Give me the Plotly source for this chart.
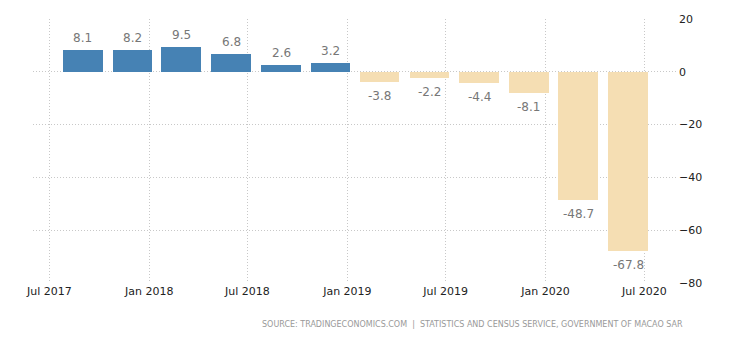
import plotly.graph_objects as go

# Quarterly year-on-year change, %
quarters = [
    "2017-09-01", "2017-12-01", "2018-03-01", "2018-06-01",
    "2018-09-01", "2018-12-01", "2019-03-01", "2019-06-01",
    "2019-09-01", "2019-12-01", "2020-03-01", "2020-06-01",
]
values = [8.1, 8.2, 9.5, 6.8, 2.6, 3.2, -3.8, -2.2, -4.4, -8.1, -48.7, -67.8]

tick_dates = ["2017-07-01", "2018-01-01", "2018-07-01", "2019-01-01",
              "2019-07-01", "2020-01-01", "2020-07-01"]
tick_text = ["Jul 2017", "Jan 2018", "Jul 2018", "Jan 2019",
             "Jul 2019", "Jan 2020", "Jul 2020"]
y_ticks = [20, 0, -20, -40, -60, -80]

POS_COLOR = "#4682B4"
NEG_COLOR = "#F5DEB3"
FONT = "DejaVu Sans"

DAY_MS = 86400000
bar_width = 73 * DAY_MS

fig = go.Figure()
fig.add_trace(go.Bar(
    x=quarters,
    y=values,
    width=[bar_width] * len(values),
    marker=dict(color=[POS_COLOR if v >= 0 else NEG_COLOR for v in values],
                line=dict(width=0)),
    hoverinfo="x+y",
))

# value labels above positive bars, below negative ones
for q, v in zip(quarters, values):
    fig.add_annotation(
        x=q, y=v, text=f"{v:.1f}", showarrow=False,
        yshift=12 if v >= 0 else -14,
        font=dict(family=FONT, size=12, color="#777777"),
        xanchor="center", yanchor="middle",
    )

fig.add_annotation(
    xref="paper", yref="paper", x=1.011, y=-0.159,
    text="SOURCE: TRADINGECONOMICS.COM  |  STATISTICS AND CENSUS SERVICE, GOVERNMENT OF MACAO SAR",
    showarrow=False, xanchor="right", yanchor="middle",
    font=dict(family=FONT, size=8, color="#999999"),
)

grid = dict(showgrid=True, gridcolor="#c8c8c8", griddash="1px,2px", gridwidth=1,
            zeroline=False, showline=False, ticks="")

fig.update_layout(
    width=730, height=340,
    margin=dict(l=33, r=52, t=19, b=57),
    paper_bgcolor="white", plot_bgcolor="white",
    showlegend=False,
    bargap=0,
    font=dict(family=FONT, size=11, color="#333333"),
    xaxis=dict(
        type="date",
        range=["2017-06-01", "2020-09-01"],
        tickvals=tick_dates, ticktext=tick_text,
        tickfont=dict(family=FONT, size=11, color="#222222"),
        **grid,
    ),
    yaxis=dict(
        side="right",
        range=[-80, 20],
        tickvals=y_ticks,
        tickfont=dict(family=FONT, size=11, color="#222222"),
        **grid,
    ),
)

fig.write_html("out.html")
